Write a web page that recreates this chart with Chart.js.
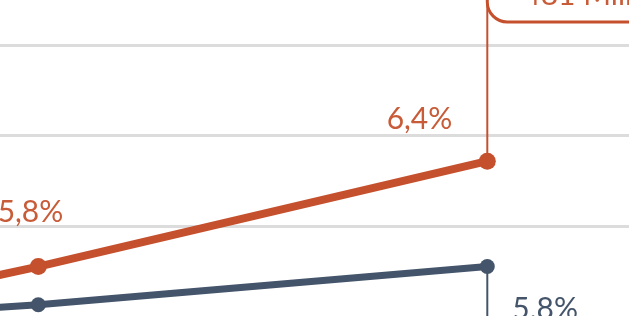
<!DOCTYPE html>
<html>
<head>
<meta charset="utf-8">
<script src="https://cdn.jsdelivr.net/npm/chart.js@4"></script>
<style>
html,body{margin:0;padding:0;background:#ffffff;}
#c{display:block;}
</style>
</head>
<body>
<canvas id="c" width="629" height="316"></canvas>
<script>
// ---- data ----
const periods = [1, 2, 3];
const orangeValues = [5.24, 5.78, 6.36];
const blueValues = [5.40, 5.57, 5.78];
const orangeLabels = ['', '5,8%', '6,4%'];
const blueLabels = ['', '', '5,8%'];
const gridTicks = [6.0, 6.5, 7.0];
const calloutText = '481 Millionen';

const ORANGE = '#C5502D';
const ORANGE_TXT = '#C85C38';
const BLUE = '#44546A';

const toPts = vals => periods.map((p, i) => ({x: p, y: vals[i]}));

const annot = {
  id: 'annot',
  beforeDatasetsDraw(chart) {
    const ctx = chart.ctx, xs = chart.scales.x, ys = chart.scales.y;
    const last = periods.length - 1;
    const xo = xs.getPixelForValue(periods[last]);
    const yo = ys.getPixelForValue(orangeValues[last]);
    const yb = ys.getPixelForValue(blueValues[last]);
    ctx.save();
    ctx.lineWidth = 2;
    ctx.strokeStyle = ORANGE;
    ctx.beginPath(); ctx.moveTo(xo, yo); ctx.lineTo(xo, 0); ctx.stroke();
    ctx.strokeStyle = BLUE;
    ctx.beginPath(); ctx.moveTo(xo, yb); ctx.lineTo(xo, chart.height); ctx.stroke();
    ctx.restore();
  },
  afterDatasetsDraw(chart, args, opts) {
    const ctx = chart.ctx, xs = chart.scales.x, ys = chart.scales.y;
    const last = periods.length - 1;
    const xo = xs.getPixelForValue(periods[last]);
    ctx.save();
    // callout box (top cut off)
    const bx = xo, by = -60, bw = 400, bh = 82, r = 20;
    ctx.beginPath();
    ctx.moveTo(bx + r, by);
    ctx.lineTo(bx + bw, by);
    ctx.lineTo(bx + bw, by + bh);
    ctx.lineTo(bx + r, by + bh);
    ctx.arcTo(bx, by + bh, bx, by + bh - r, r);
    ctx.lineTo(bx, by);
    ctx.fillStyle = '#ffffff';
    ctx.fill();
    ctx.lineWidth = 3;
    ctx.strokeStyle = ORANGE;
    ctx.stroke();
    ctx.fillStyle = ORANGE_TXT;
    ctx.font = '30px Lato, "Open Sans", sans-serif';
    ctx.textBaseline = 'alphabetic';
    ctx.textAlign = 'left';
    ctx.fillText(calloutText, bx + 36, 5);
    // value labels
    opts.labels.forEach(l => {
      const src = l.series === 'o' ? orangeValues : blueValues;
      const txt = (l.series === 'o' ? orangeLabels : blueLabels)[l.i];
      if (!txt) return;
      const px = xs.getPixelForValue(periods[l.i]);
      const py = ys.getPixelForValue(src[l.i]);
      ctx.fillStyle = l.series === 'o' ? ORANGE_TXT : BLUE;
      ctx.textAlign = l.align;
      ctx.fillText(txt, px + l.dx, py + l.dy);
    });
    ctx.restore();
  }
};

new Chart(document.getElementById('c'), {
  type: 'line',
  data: {
    datasets: [
      {data: toPts(orangeValues), borderColor: ORANGE, backgroundColor: ORANGE,
       borderWidth: 8, pointRadius: 8.5, pointBorderWidth: 0, pointBackgroundColor: ORANGE, tension: 0},
      {data: toPts(blueValues), borderColor: BLUE, backgroundColor: BLUE,
       borderWidth: 7, pointRadius: 7.5, pointBorderWidth: 0, pointBackgroundColor: BLUE, tension: 0}
    ]
  },
  options: {
    responsive: false,
    animation: false,
    devicePixelRatio: 1,
    layout: {padding: 0, autoPadding: false},
    plugins: {
      legend: {display: false},
      tooltip: {enabled: false},
      annot: {
        labels: [
          {series: 'o', i: 1, align: 'right', dx: 25, dy: -45},
          {series: 'o', i: 2, align: 'right', dx: -35, dy: -32},
          {series: 'b', i: 2, align: 'left', dx: 25, dy: 52}
        ]
      }
    },
    scales: {
      x: {type: 'linear', display: false, min: 1.9147, max: 3.3156},
      y: {
        type: 'linear', min: 5.5077, max: 7.2478,
        afterBuildTicks: s => { s.ticks = gridTicks.map(v => ({value: v})); },
        ticks: {display: false},
        grid: {color: '#DCDCDC', lineWidth: 3, drawTicks: false},
        border: {display: false}
      }
    }
  },
  plugins: [annot]
});
</script>
</body>
</html>
